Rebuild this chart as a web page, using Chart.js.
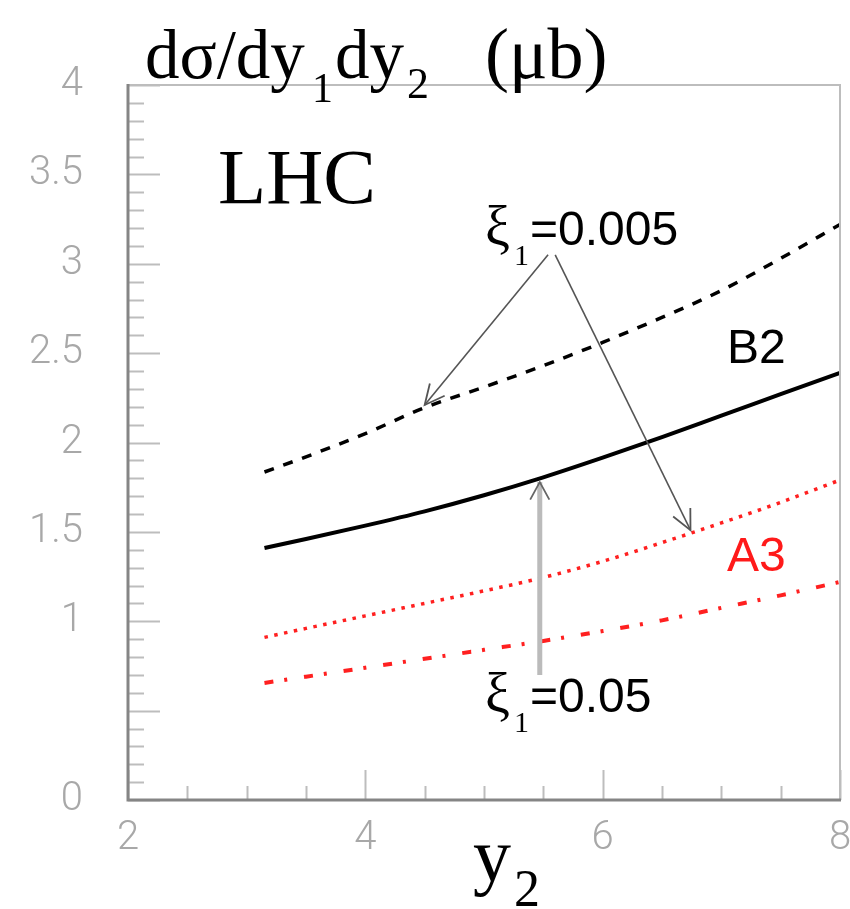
<!DOCTYPE html>
<html><head><meta charset="utf-8">
<script src="https://cdn.jsdelivr.net/npm/chart.js@4/dist/chart.umd.min.js"></script>
<style>html,body{margin:0;padding:0;background:#fff}#wrap{width:850px;height:909px}</style>
</head><body><div id="wrap"><canvas id="c" width="850" height="909"></canvas></div>
<script>
// rapidity y2 sample points
const y2Values = [3.15, 3.5, 4, 4.5, 5, 5.5, 6, 6.5, 7, 7.5, 8];
// B2, xi1 = 0.005 (dashed black)
const b2Xi005 = [1.835, 1.92, 2.05, 2.195, 2.31, 2.43, 2.56, 2.70, 2.85, 3.03, 3.22];
// B2, xi1 = 0.05 (solid black)
const b2Xi05 = [1.41, 1.46, 1.535, 1.615, 1.705, 1.805, 1.915, 2.03, 2.15, 2.27, 2.39];
// A3, xi1 = 0.005 (red dotted)
const a3Xi005 = [0.91, 0.96, 1.03, 1.10, 1.17, 1.245, 1.335, 1.44, 1.55, 1.665, 1.79];
// A3, xi1 = 0.05 (red dash-dot)
const a3Xi05 = [0.655, 0.69, 0.74, 0.79, 0.84, 0.89, 0.945, 1.005, 1.075, 1.145, 1.22];
// axis tick labels
const xTickLabels = ['2', '4', '6', '8'];
const yTickLabels = ['0', '', '1', '1.5', '2', '2.5', '3', '3.5', '4'];

const pts = arr => arr.map((v, i) => ({x: y2Values[i], y: v}));

const SERIF = '"Liberation Serif", "DejaVu Serif", serif';
const SANS = '"Liberation Sans", Arial, sans-serif';

function drawRich(ctx, x, y, segs) {
  let cx = x;
  for (const s of segs) {
    ctx.font = s.f;
    ctx.fillStyle = s.c || '#000';
    const px = s.at !== undefined ? x + s.at : cx;
    ctx.fillText(s.t, px, y + (s.dy || 0));
    cx = px + ctx.measureText(s.t).width + (s.sp || 0);
  }
}
function arrow(ctx, x1, y1, x2, y2, color, width, headColor, headW, headLen, headAng) {
  ctx.save();
  ctx.strokeStyle = color; ctx.lineWidth = width; ctx.lineCap = 'butt';
  ctx.beginPath(); ctx.moveTo(x1, y1); ctx.lineTo(x2, y2); ctx.stroke();
  const a = Math.atan2(y2 - y1, x2 - x1);
  ctx.strokeStyle = headColor; ctx.lineWidth = headW;
  ctx.beginPath();
  ctx.moveTo(x2 - headLen * Math.cos(a - headAng), y2 - headLen * Math.sin(a - headAng));
  ctx.lineTo(x2, y2);
  ctx.lineTo(x2 - headLen * Math.cos(a + headAng), y2 - headLen * Math.sin(a + headAng));
  ctx.stroke();
  ctx.restore();
}

const deco = {
  id: 'deco',
  afterDatasetsDraw(chart) {
    const ctx = chart.ctx, ca = chart.chartArea;
    const xs = chart.scales.x, ys = chart.scales.y;
    ctx.save();
    // inward ticks
    ctx.strokeStyle = '#bdbdbd'; ctx.lineWidth = 2;
    for (const t of ys.ticks) {
      const v = t.value, py = Math.round(ys.getPixelForValue(v)) + 0.5;
      const major = Math.abs(v * 2 - Math.round(v * 2)) < 1e-6;
      ctx.beginPath(); ctx.moveTo(ca.left, py); ctx.lineTo(ca.left + (major ? 32 : 16), py); ctx.stroke();
    }
    for (const t of xs.ticks) {
      const v = t.value, px = Math.round(xs.getPixelForValue(v)) + 0.5;
      const major = Math.abs(v / 2 - Math.round(v / 2)) < 1e-6;
      ctx.beginPath(); ctx.moveTo(px, ca.bottom); ctx.lineTo(px, ca.bottom - (major ? 30 : 14)); ctx.stroke();
    }
    // frame
    ctx.strokeStyle = '#bdbdbd'; ctx.lineWidth = 2;
    ctx.beginPath(); ctx.moveTo(ca.left, ca.top); ctx.lineTo(ca.right, ca.top); ctx.lineTo(ca.right, ca.bottom); ctx.stroke();
    ctx.strokeStyle = '#858585'; ctx.lineWidth = 3;
    ctx.beginPath(); ctx.moveTo(ca.left, ca.top - 1); ctx.lineTo(ca.left, ca.bottom); ctx.lineTo(ca.right + 1, ca.bottom); ctx.stroke();

    const P = (x, y) => [xs.getPixelForValue(x), ys.getPixelForValue(y)];
    // arrows
    let a = P(5.54, 3.05), b = P(4.50, 2.21);
    arrow(ctx, a[0], a[1], b[0], b[1], '#555', 1.6, '#555', 1.8, 22, 0.45);
    a = P(5.60, 3.05); b = P(6.74, 1.51);
    arrow(ctx, a[0], a[1], b[0], b[1], '#555', 1.6, '#555', 1.8, 22, 0.45);
    a = P(5.47, 0.70); b = P(5.47, 1.79);
    arrow(ctx, a[0], a[1], b[0], b[1] + 2, '#bbbbbb', 5, '#666', 1.8, 20, 0.5);

    // annotations
    ctx.textBaseline = 'alphabetic'; ctx.textAlign = 'left';
    let p = P(2.758, 3.34);
    drawRich(ctx, p[0], p[1], [{t: 'LHC', f: `79px ${SERIF}`}]);
    p = P(5.008, 3.105);
    drawRich(ctx, p[0], p[1], [{t: 'ξ', f: `56px ${SERIF}`}, {t: '1', f: `30px ${SERIF}`, dy: 20, at: 29}, {t: '=0.005', f: `48px ${SANS}`, at: 45}]);
    p = P(7.048, 2.445);
    drawRich(ctx, p[0], p[1], [{t: 'B2', f: `48px ${SANS}`}]);
    p = P(7.048, 1.281);
    drawRich(ctx, p[0], p[1], [{t: 'A3', f: `48px ${SANS}`, c: '#ff1a1a'}]);
    p = P(5.008, 0.492);
    drawRich(ctx, p[0], p[1], [{t: 'ξ', f: `56px ${SERIF}`}, {t: '1', f: `30px ${SERIF}`, dy: 20, at: 29}, {t: '=0.05', f: `48px ${SANS}`, at: 45}]);

    // axis titles
    drawRich(ctx, ca.left + 17, ca.top - 7, [
      {t: 'dσ/dy', f: `69px ${SERIF}`, at: 0}, {t: '1', f: `42px ${SERIF}`, dy: 24, at: 167},
      {t: 'dy', f: `69px ${SERIF}`, at: 190}, {t: '2', f: `44px ${SERIF}`, dy: 20, at: 262},
      {t: '(μb)', f: `72px ${SERIF}`, at: 340}]);
    drawRich(ctx, ca.left + 345, ca.bottom + 81, [
      {t: 'y', f: `76px ${SERIF}`, at: 0}, {t: '2', f: `52px ${SERIF}`, dy: 25, at: 41}]);
    ctx.restore();
  }
};

new Chart(document.getElementById('c'), {
  type: 'line',
  data: {
    datasets: [
      {data: pts(b2Xi005), borderColor: '#000', borderWidth: 3.5, borderDash: [10, 10]},
      {data: pts(b2Xi05), borderColor: '#000', borderWidth: 4},
      {data: pts(a3Xi005), borderColor: '#ff2020', borderWidth: 3.5, borderDash: [3.5, 6.5]},
      {data: pts(a3Xi05), borderColor: '#ff2020', borderWidth: 4, borderDash: [9, 11, 3, 17]}
    ]
  },
  options: {
    responsive: false, animation: false, devicePixelRatio: 1,
    layout: {padding: {top: 85, right: 10, left: 0, bottom: 0}},
    elements: {point: {radius: 0}, line: {cubicInterpolationMode: 'monotone', fill: false}},
    plugins: {legend: {display: false}, tooltip: {enabled: false}},
    scales: {
      x: {
        type: 'linear', min: 2, max: 8,
        afterFit(s) { s.height = 109; s.paddingRight = 0; s.paddingLeft = 0; },
        grid: {display: false, drawTicks: false}, border: {display: false},
        ticks: {
          stepSize: 0.5, autoSkip: false, maxRotation: 0, padding: 15,
          color: '#a8a8a8', font: {family: 'Roboto', weight: '300', size: 40},
          callback: v => (Math.abs(v / 2 - Math.round(v / 2)) < 1e-6 ? xTickLabels[Math.round((v - 2) / 2)] : '')
        }
      },
      y: {
        min: 0, max: 4,
        afterFit(s) { s.width = 128; s.paddingTop = 0; s.paddingBottom = 0; },
        grid: {display: false, drawTicks: false}, border: {display: false},
        ticks: {
          stepSize: 0.1, autoSkip: false, padding: 45,
          color: '#a8a8a8', font: {family: 'Roboto', weight: '300', size: 40},
          callback: v => {
            const k = Math.round(v * 2);
            return Math.abs(v * 2 - k) < 1e-6 ? yTickLabels[k] : '';
          }
        }
      }
    }
  },
  plugins: [deco]
});
</script></body></html>
